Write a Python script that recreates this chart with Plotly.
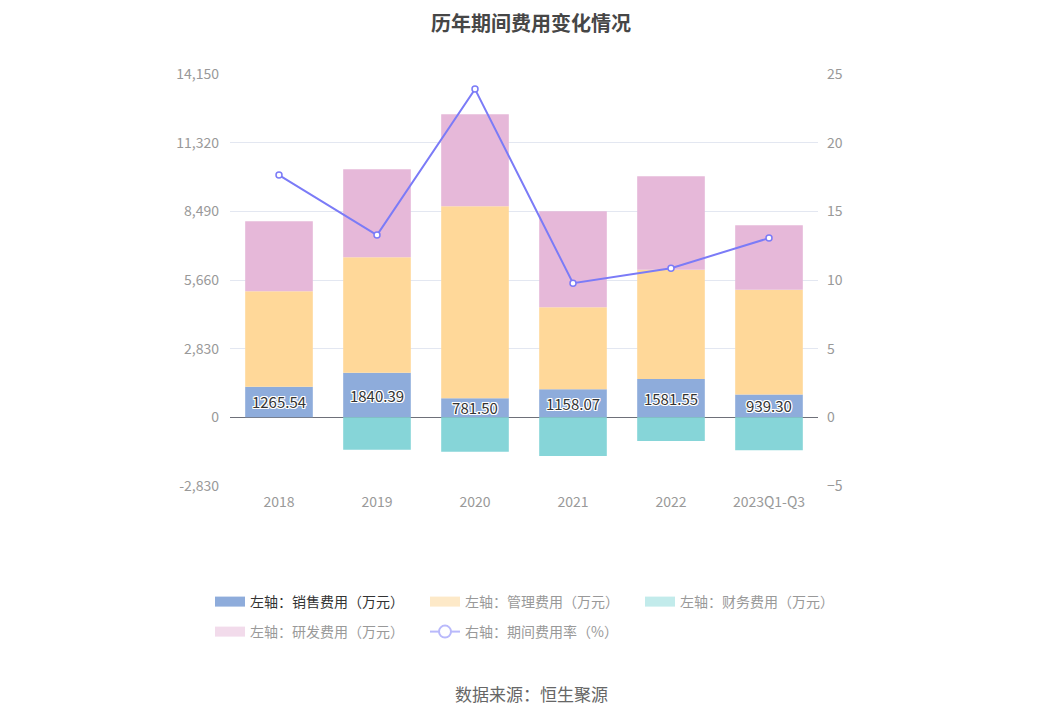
import plotly.graph_objects as go

categories = ["2018", "2019", "2020", "2021", "2022", "2023Q1-Q3"]
sales = [1265.54, 1840.39, 781.50, 1158.07, 1581.55, 939.30]
admin = [3930, 4758, 7920, 3378, 4500, 4320]
finance = [0, -1333, -1415, -1595, -976, -1361]
rnd = [2887, 3630, 3794, 3959, 3857, 2659]
rate = [17.64, 13.27, 23.9, 9.77, 10.86, 13.05]

left_ticks = [-2830, 0, 2830, 5660, 8490, 11320, 14150]
right_ticks = [-5, 0, 5, 10, 15, 20, 25]

FONT = "Noto Sans CJK SC"
C_SALES = "#8eacdb"
C_ADMIN = "#ffd899"
C_FIN = "#86d5d8"
C_RND = "#e6b8d9"
C_LINE = "#7b7bf7"
W, H = 1062, 718
PL, PW, PB, PH = 222, 588, 478, 412  # plot area (figure px)

fig = go.Figure()

fig.add_trace(go.Bar(
    x=categories, y=sales, marker=dict(color=C_SALES, line=dict(width=0)),
    text=[f"{v:.2f}" for v in sales], textposition="inside",
    insidetextanchor="middle", constraintext="none", textangle=0,
    textfont=dict(size=15, color="#333333", family=FONT,
                  shadow="1px 1px 0 #fff, -1px -1px 0 #fff, 1px -1px 0 #fff, -1px 1px 0 #fff, 0 1px 0 #fff, 0 -1px 0 #fff, 1px 0 0 #fff, -1px 0 0 #fff"),
    width=0.69, showlegend=False, hoverinfo="skip", cliponaxis=False))
fig.add_trace(go.Bar(x=categories, y=admin, marker=dict(color=C_ADMIN, line=dict(width=0)),
                     width=0.69, showlegend=False, hoverinfo="skip"))
fig.add_trace(go.Bar(x=categories, y=finance, marker=dict(color=C_FIN, line=dict(width=0)),
                     width=0.69, showlegend=False, hoverinfo="skip"))
fig.add_trace(go.Bar(x=categories, y=rnd, marker=dict(color=C_RND, line=dict(width=0)),
                     width=0.69, showlegend=False, hoverinfo="skip"))

fig.add_trace(go.Scatter(
    x=categories, y=rate, yaxis="y2", mode="lines+markers",
    line=dict(color=C_LINE, width=2),
    marker=dict(size=6, color="white", line=dict(color=C_LINE, width=1.5)),
    showlegend=False, hoverinfo="skip", cliponaxis=False))

# legend-only entries
leg = [
    ("<span style='color:#333333'>左轴：销售费用（万元）</span>", C_SALES, "legend"),
    ("左轴：管理费用（万元）", "#fde9c8", "legend"),
    ("左轴：财务费用（万元）", "#c2ebeb", "legend"),
    ("左轴：研发费用（万元）", "#f2dbeb", "legend2"),
]
for name, col, lg in leg:
    fig.add_trace(go.Scatter(x=[categories[0]], y=[None], name=name, mode="lines",
                             line=dict(color=col, width=10), legend=lg, showlegend=True))
fig.add_trace(go.Scatter(x=[categories[0]], y=[None], yaxis="y2", name="右轴：期间费用率（%）",
                         mode="lines+markers", line=dict(color="#b9b9fb", width=2),
                         marker=dict(size=12, color="white", line=dict(color="#b9b9fb", width=2)),
                         legend="legend2", showlegend=True))

legend_common = dict(orientation="h", xref="paper", yref="paper", xanchor="left",
                     yanchor="middle", entrywidth=170, font=dict(size=14, color="#999999"),
                     itemwidth=30, traceorder="normal", bgcolor="rgba(0,0,0,0)")

fig.update_layout(
    width=W, height=H,
    paper_bgcolor="white", plot_bgcolor="white",
    font=dict(family=FONT, color="#999999", size=14),
    barmode="relative",
    margin=dict(l=PL, r=W - PL - PW, t=PB - PH, b=H - PB),
    title=dict(text="<b>历年期间费用变化情况</b>", x=523 / W, xanchor="center", y=1, yanchor="top",
               pad=dict(t=9),
               font=dict(size=20, color="#464646", family=FONT)),
    xaxis=dict(showgrid=False, showline=False, ticks="", tickfont=dict(size=14, color="#999999"),
               ticklabelstandoff=6, fixedrange=True),
    yaxis=dict(range=[-2830, 14150], tickvals=left_ticks, ticktext=[f"{v:,}" for v in left_ticks],
               showgrid=True, gridcolor="#e3e7f1", gridwidth=1, zeroline=True,
               zerolinecolor="#6e7079", zerolinewidth=1, showline=False,
               tickfont=dict(size=14, color="#999999"), ticklabelstandoff=10),
    yaxis2=dict(range=[-5, 25], tickvals=right_ticks, overlaying="y", side="right",
                showgrid=False, zeroline=False, showline=False,
                tickfont=dict(size=14, color="#999999"), ticklabelstandoff=8),
    legend=dict(legend_common, x=(202 - PL) / PW, y=-(594 - PB) / PH),
    legend2=dict(legend_common, x=(202 - PL) / PW, y=-(624 - PB) / PH),
    showlegend=True,
    annotations=[dict(text="数据来源：恒生聚源", xref="paper", yref="paper", x=(523 - PL) / PW, xanchor="center",
                      y=-(685 - PB) / PH, yanchor="middle", showarrow=False,
                      font=dict(size=17, color="#666666", family=FONT))],
)

fig.write_html("out.html")
